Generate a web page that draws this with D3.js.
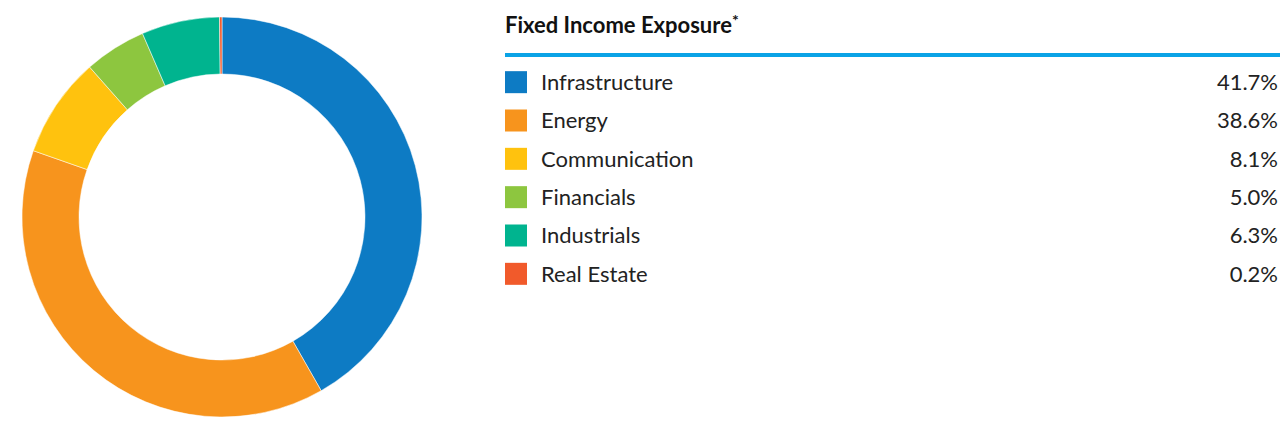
<!DOCTYPE html>
<html>
<head>
<meta charset="utf-8">
<script src="https://cdn.jsdelivr.net/npm/d3@7"></script>
<style>
  body { margin: 0; background: #fff; }
  svg { font-family: Lato, "Open Sans", sans-serif; }
</style>
</head>
<body>
<svg id="chart" width="1280" height="445"></svg>
<script>
const categories = ["Infrastructure", "Energy", "Communication", "Financials", "Industrials", "Real Estate"];
const values = [41.7, 38.6, 8.1, 5.0, 6.3, 0.2];
const valueLabels = ["41.7%", "38.6%", "8.1%", "5.0%", "6.3%", "0.2%"];
const colours = ["#0d7bc4", "#f7941d", "#ffc20e", "#8dc63f", "#00b48f", "#f15a2b"];

const svg = d3.select("#chart");

// donut
const pie = d3.pie().sort(null).value(d => d);
const arc = d3.arc().innerRadius(143).outerRadius(200);

svg.append("g")
    .attr("transform", "translate(222,217)")
    .selectAll("path")
    .data(pie(values))
    .enter().append("path")
    .attr("d", arc)
    .attr("fill", (d, i) => colours[i])
    .attr("stroke", "#fff")
    .attr("stroke-width", 0.5);

// legend
const legend = svg.append("g");

const title = legend.append("text")
    .attr("x", 505).attr("y", 33)
    .attr("font-size", 22).attr("font-weight", "bold").attr("fill", "#111");
title.append("tspan").text("Fixed Income Exposure");
title.append("tspan").text("*").attr("font-size", 16).attr("dy", -7);

legend.append("rect")
    .attr("x", 505).attr("y", 53).attr("width", 775).attr("height", 4)
    .attr("fill", "#0aa3e6");

const y = d3.scaleBand().domain(categories).range([63, 293]);

const rows = legend.selectAll("g.row")
    .data(categories)
    .enter().append("g")
    .attr("class", "row")
    .attr("transform", d => `translate(0,${y(d) + y.bandwidth() / 2})`);

rows.append("rect")
    .attr("x", 505).attr("y", -11).attr("width", 22).attr("height", 22)
    .attr("fill", (d, i) => colours[i]);

rows.append("text")
    .attr("x", 541).attr("dy", "0.36em")
    .attr("font-size", 22).attr("fill", "#222")
    .text(d => d);

rows.append("text")
    .attr("x", 1278).attr("dy", "0.36em")
    .attr("text-anchor", "end")
    .attr("font-size", 22).attr("fill", "#222")
    .text((d, i) => valueLabels[i]);
</script>
</body>
</html>
